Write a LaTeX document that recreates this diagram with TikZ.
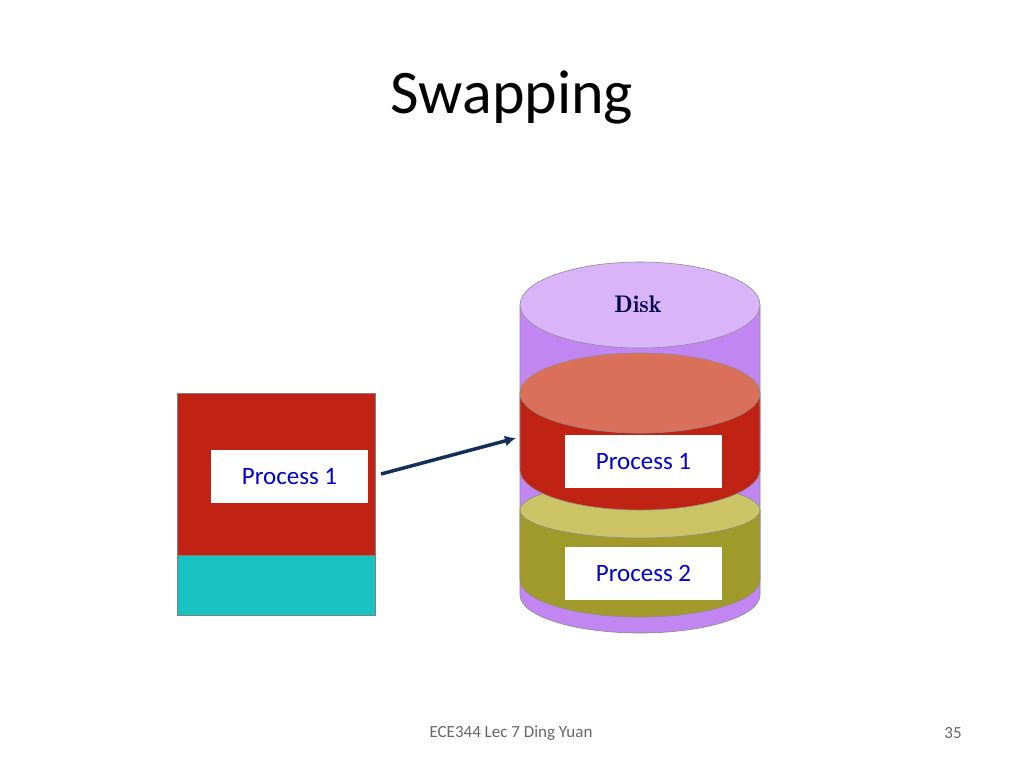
\documentclass[tikz,border=0pt]{standalone}
\usepackage{fontspec}
\setmainfont{Carlito}
\usetikzlibrary{arrows.meta}
\definecolor{purpbody}{HTML}{C286F2}
\definecolor{purptop}{HTML}{DAB4F8}
\definecolor{redbody}{HTML}{C02214}
\definecolor{redtop}{HTML}{DA705A}
\definecolor{olbody}{HTML}{A09A2A}
\definecolor{oltop}{HTML}{CAC466}
\definecolor{cyanbox}{HTML}{18C2C0}
\definecolor{navy}{HTML}{14305A}
\begin{document}
\begin{tikzpicture}[x=1pt,y=-1pt,
  edge/.style={draw=black!45,line width=0.6pt},
  lbl/.style={fill=white,text=blue!80!black,minimum width=157pt,minimum height=53pt,font=\fontsize{25}{30}\selectfont}]
\useasboundingbox (0,0) rectangle (1024,768);
\node (title) at (512,97) {\fontsize{62}{72}\selectfont Swapping};
% disk purple
\path[edge,fill=purpbody] (520,305) -- (520,595) arc[start angle=180,end angle=0,x radius=120,y radius=38] -- (760,305) -- cycle;
\path[edge,fill=purptop] (640,305) ellipse[x radius=120,y radius=43];
\node (disk) at (638,304) {\fontfamily{lmr}\selectfont\fontsize{24}{28}\selectfont\bfseries\color{blue!30!black}Disk};
% olive
\path[edge,fill=olbody] (520,510) -- (520,580) arc[start angle=180,end angle=0,x radius=120,y radius=37] -- (760,510) -- cycle;
\path[edge,fill=oltop] (640,510) ellipse[x radius=120,y radius=28];
% red
\path[edge,fill=redbody] (520,393) -- (520,470) arc[start angle=180,end angle=0,x radius=120,y radius=40] -- (760,393) -- cycle;
\path[edge,fill=redtop] (640,393) ellipse[x radius=120,y radius=40];
\node[lbl] (dp1) at (643.5,461.5) {Process 1};
\node[lbl] (dp2) at (643.5,573.5) {Process 2};
% memory
\path[draw=black!50,fill=redbody] (177,393) rectangle (375,555);
\path[draw=black!50,fill=cyanbox] (177,555) rectangle (375,615);
\node[lbl] (mp1) at (289.5,476.5) {Process 1};
\coordinate (a1) at (381,474);
\coordinate (a2) at (516,438);
\draw[line width=3.5pt,draw=navy,-{Latex[length=11pt,width=11pt]}] (a1) -- (a2);
\node (foot) at (511,733) {\fontsize{17}{20}\selectfont\color{black!60}ECE344 Lec 7 Ding Yuan};
\node (page) at (953,733) {\fontsize{17}{20}\selectfont\color{black!60}35};
\end{tikzpicture}
\end{document}
